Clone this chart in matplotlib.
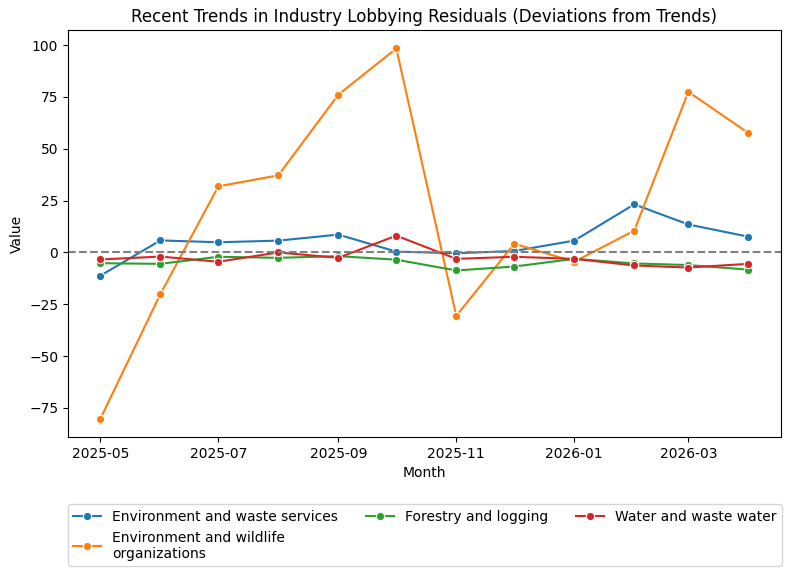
import pandas as pd
import matplotlib.pyplot as plt
import matplotlib.dates as mdates

# Monthly residuals (deviations from trend)
months = pd.date_range('2025-05-01', '2026-04-01', freq='MS')

env_waste = [-11.2, 5.8, 4.9, 5.7, 8.6, 0.4, -0.4, 0.7, 5.7, 23.2, 13.5, 7.6]
env_wildlife = [-80.2, -20.1, 31.9, 37.2, 76.1, 98.4, -30.6, 4.2, -4.5, 10.5, 77.5, 57.6]
forestry = [-5.2, -5.5, -2.1, -2.6, -1.8, -3.5, -8.7, -6.8, -3.1, -5.3, -6.1, -8.3]
water = [-3.4, -2.0, -4.5, 0.0, -2.6, 8.1, -3.1, -2.1, -3.1, -6.3, -7.3, -5.5]

series = {
    'Environment and waste services': (env_waste, '#1f77b4'),
    'Environment and wildlife\norganizations': (env_wildlife, '#ff7f0e'),
    'Forestry and logging': (forestry, '#2ca02c'),
    'Water and waste water': (water, '#d62728'),
}

fig, ax = plt.subplots(figsize=(7.91, 5.76), dpi=100)
fig.subplots_adjust(left=0.086, right=0.987, top=0.948, bottom=0.241)

for name, (vals, color) in series.items():
    ax.plot(months, vals, marker='o', color=color, linewidth=1.5, markersize=6,
            markeredgecolor='white', markeredgewidth=0.8, label=name)

ax.axhline(0, color='gray', linestyle='--', linewidth=1.5)

ax.set_title('Recent Trends in Industry Lobbying Residuals (Deviations from Trends)', fontsize=12)
ax.set_xlabel('Month')
ax.set_ylabel('Value')
ax.xaxis.set_major_locator(mdates.MonthLocator(bymonth=[1, 3, 5, 7, 9, 11]))
ax.xaxis.set_major_formatter(mdates.DateFormatter('%Y-%m'))

handles, labels = ax.get_legend_handles_labels()
fig.legend(handles, labels, loc='upper center', bbox_to_anchor=(0.537, 0.137), ncol=3)

plt.savefig('out.png', dpi=100)
plt.close()
